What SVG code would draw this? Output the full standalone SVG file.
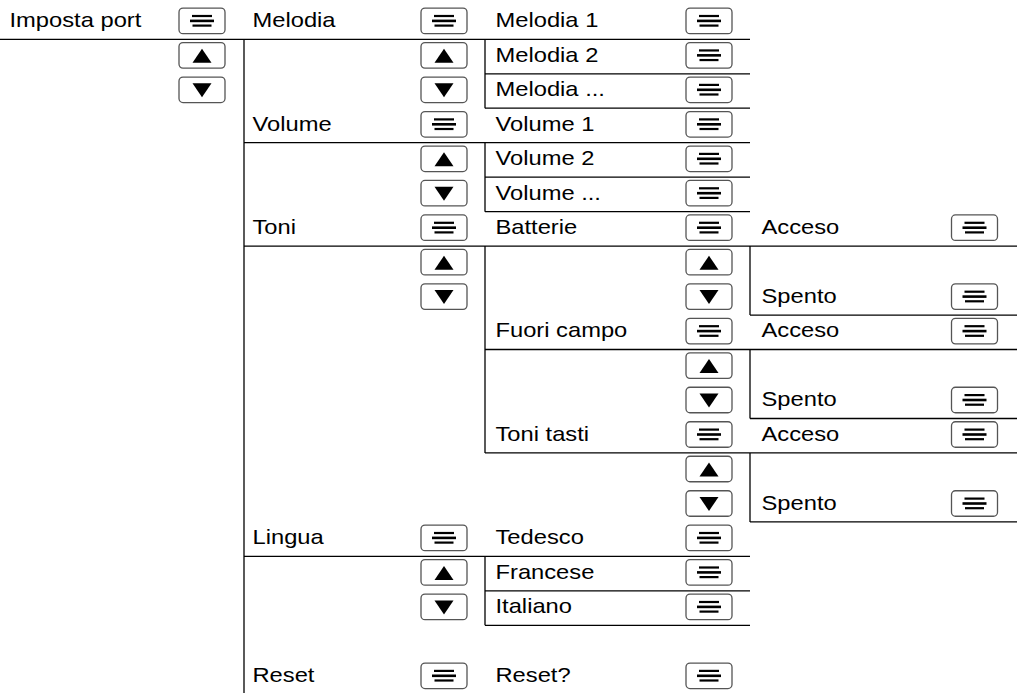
<svg xmlns="http://www.w3.org/2000/svg" width="1017" height="693" viewBox="0 0 1017 693">
<style>
.t{font-family:"Liberation Sans",Arial,Helvetica,sans-serif;font-size:21px;fill:#000}
.ln{stroke:#000;stroke-width:1.3;fill:none}
.bf{fill:#fff;stroke:#555;stroke-width:1.3}
.ic{fill:#000}
</style>
<defs>
<g id="eq"><rect class="bf" x="-23" y="-12.75" width="46" height="25.5" rx="4"/><rect class="ic" x="-10" y="-6" width="20" height="2.2"/><rect class="ic" x="-12" y="-1.3" width="24" height="2.6"/><rect class="ic" x="-9.5" y="3.6" width="19" height="2.2"/></g>
<g id="up"><rect class="bf" x="-23" y="-12.75" width="46" height="25.5" rx="4"/><polygon class="ic" points="0,-6.5 9.5,7.5 -9.5,7.5"/></g>
<g id="dn"><rect class="bf" x="-23" y="-12.75" width="46" height="25.5" rx="4"/><polygon class="ic" points="-9.5,-6.5 9.5,-6.5 0,7.5"/></g>
</defs>
<rect width="1017" height="693" fill="#fff"/>
<g id="connectors">
<line class="ln" x1="0" y1="39.3" x2="750" y2="39.3"/>
<line class="ln" x1="485" y1="73.8" x2="750" y2="73.8"/>
<line class="ln" x1="485" y1="108.2" x2="750" y2="108.2"/>
<line class="ln" x1="244" y1="142.7" x2="750" y2="142.7"/>
<line class="ln" x1="485" y1="177.2" x2="750" y2="177.2"/>
<line class="ln" x1="485" y1="211.7" x2="750" y2="211.7"/>
<line class="ln" x1="244" y1="246.1" x2="1017" y2="246.1"/>
<line class="ln" x1="750" y1="315.1" x2="1017" y2="315.1"/>
<line class="ln" x1="485" y1="349.5" x2="1017" y2="349.5"/>
<line class="ln" x1="750" y1="418.5" x2="1017" y2="418.5"/>
<line class="ln" x1="485" y1="452.9" x2="1017" y2="452.9"/>
<line class="ln" x1="750" y1="521.9" x2="1017" y2="521.9"/>
<line class="ln" x1="244" y1="556.4" x2="750" y2="556.4"/>
<line class="ln" x1="485" y1="590.8" x2="750" y2="590.8"/>
<line class="ln" x1="485" y1="625.3" x2="750" y2="625.3"/>
<line class="ln" x1="244" y1="39.3" x2="244" y2="693"/>
<line class="ln" x1="485" y1="39.3" x2="485" y2="108.2"/>
<line class="ln" x1="485" y1="142.7" x2="485" y2="211.7"/>
<line class="ln" x1="485" y1="246.1" x2="485" y2="452.9"/>
<line class="ln" x1="485" y1="556.4" x2="485" y2="625.3"/>
<line class="ln" x1="750" y1="246.1" x2="750" y2="315.1"/>
<line class="ln" x1="750" y1="349.5" x2="750" y2="418.5"/>
<line class="ln" x1="750" y1="452.9" x2="750" y2="521.9"/>
</g>
<g id="imposta-port"><text class="t" transform="translate(9.5,27.1) scale(1.13,1)">Imposta port</text><use href="#eq" x="202" y="20.9"/></g>
<g id="nav-1"><use href="#up" x="202" y="55.35"/><use href="#dn" x="202" y="89.8"/></g>
<g id="melodia"><text class="t" transform="translate(252.5,27.1) scale(1.13,1)">Melodia</text><use href="#eq" x="444" y="20.9"/></g>
<g id="nav-melodia"><use href="#up" x="444" y="55.35"/><use href="#dn" x="444" y="89.8"/></g>
<g id="melodia-1"><text class="t" transform="translate(495.5,27.1) scale(1.13,1)">Melodia 1</text><use href="#eq" x="709" y="20.9"/></g>
<g id="melodia-2"><text class="t" transform="translate(495.5,61.6) scale(1.13,1)">Melodia 2</text><use href="#eq" x="709" y="55.35"/></g>
<g id="melodia-n"><text class="t" transform="translate(495.5,96.1) scale(1.13,1)">Melodia ...</text><use href="#eq" x="709" y="89.8"/></g>
<g id="volume"><text class="t" transform="translate(252.5,130.5) scale(1.13,1)">Volume</text><use href="#eq" x="444" y="124.3"/></g>
<g id="nav-volume"><use href="#up" x="444" y="158.8"/><use href="#dn" x="444" y="193.2"/></g>
<g id="volume-1"><text class="t" transform="translate(495.5,130.5) scale(1.13,1)">Volume 1</text><use href="#eq" x="709" y="124.3"/></g>
<g id="volume-2"><text class="t" transform="translate(495.5,165) scale(1.13,1)">Volume 2</text><use href="#eq" x="709" y="158.8"/></g>
<g id="volume-n"><text class="t" transform="translate(495.5,199.5) scale(1.13,1)">Volume ...</text><use href="#eq" x="709" y="193.2"/></g>
<g id="toni"><text class="t" transform="translate(252.5,234) scale(1.13,1)">Toni</text><use href="#eq" x="444" y="227.7"/></g>
<g id="nav-toni"><use href="#up" x="444" y="262.2"/><use href="#dn" x="444" y="296.6"/></g>
<g id="batterie"><text class="t" transform="translate(495.5,234) scale(1.13,1)">Batterie</text><use href="#eq" x="709" y="227.7"/></g>
<g id="nav-batterie"><use href="#up" x="709" y="262.2"/><use href="#dn" x="709" y="296.6"/></g>
<g id="batterie-acceso"><text class="t" transform="translate(761.5,234) scale(1.13,1)">Acceso</text><use href="#eq" x="974.5" y="227.7"/></g>
<g id="batterie-spento"><text class="t" transform="translate(761.5,302.9) scale(1.13,1)">Spento</text><use href="#eq" x="974.5" y="296.6"/></g>
<g id="fuori-campo"><text class="t" transform="translate(495.5,337.4) scale(1.13,1)">Fuori campo</text><use href="#eq" x="709" y="331.1"/></g>
<g id="nav-fuori"><use href="#up" x="709" y="365.6"/><use href="#dn" x="709" y="400"/></g>
<g id="fuori-acceso"><text class="t" transform="translate(761.5,337.4) scale(1.13,1)">Acceso</text><use href="#eq" x="974.5" y="331.1"/></g>
<g id="fuori-spento"><text class="t" transform="translate(761.5,406.3) scale(1.13,1)">Spento</text><use href="#eq" x="974.5" y="400"/></g>
<g id="toni-tasti"><text class="t" transform="translate(495.5,440.8) scale(1.13,1)">Toni tasti</text><use href="#eq" x="709" y="434.5"/></g>
<g id="nav-tasti"><use href="#up" x="709" y="469"/><use href="#dn" x="709" y="503.5"/></g>
<g id="tasti-acceso"><text class="t" transform="translate(761.5,440.8) scale(1.13,1)">Acceso</text><use href="#eq" x="974.5" y="434.5"/></g>
<g id="tasti-spento"><text class="t" transform="translate(761.5,509.7) scale(1.13,1)">Spento</text><use href="#eq" x="974.5" y="503.5"/></g>
<g id="lingua"><text class="t" transform="translate(252.5,544.2) scale(1.13,1)">Lingua</text><use href="#eq" x="444" y="537.9"/></g>
<g id="nav-lingua"><use href="#up" x="444" y="572.4"/><use href="#dn" x="444" y="606.9"/></g>
<g id="tedesco"><text class="t" transform="translate(495.5,544.2) scale(1.13,1)">Tedesco</text><use href="#eq" x="709" y="537.9"/></g>
<g id="francese"><text class="t" transform="translate(495.5,578.7) scale(1.13,1)">Francese</text><use href="#eq" x="709" y="572.4"/></g>
<g id="italiano"><text class="t" transform="translate(495.5,613.1) scale(1.13,1)">Italiano</text><use href="#eq" x="709" y="606.9"/></g>
<g id="reset"><text class="t" transform="translate(252.5,682.1) scale(1.13,1)">Reset</text><use href="#eq" x="444" y="675.8"/></g>
<g id="reset-confirm"><text class="t" transform="translate(495.5,682.1) scale(1.13,1)">Reset?</text><use href="#eq" x="709" y="675.8"/></g>
</svg>
